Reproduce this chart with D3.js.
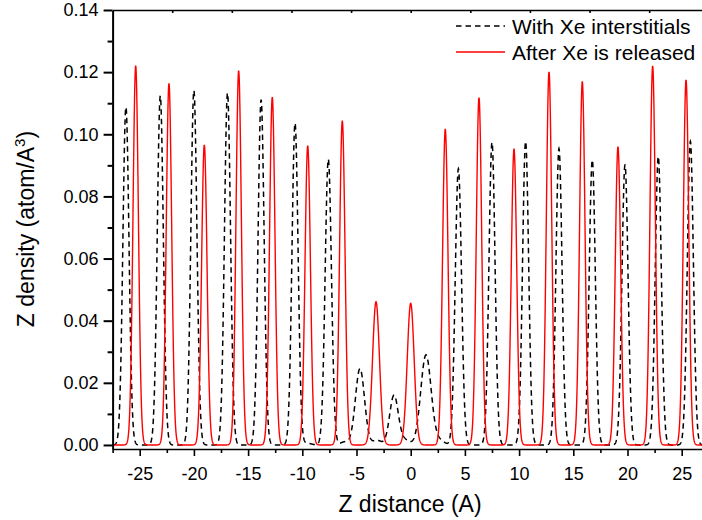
<!DOCTYPE html>
<html>
<head>
<meta charset="utf-8">
<script src="https://cdn.jsdelivr.net/npm/d3@7"></script>
<style>
  body { margin: 0; background: #fff; }
  svg { display: block; font-family: "Liberation Sans", Arial, sans-serif; }
</style>
</head>
<body>
<svg id="chart" width="702" height="520"></svg>
<script>
// Peaks: centre (A), height (atom/A^3), width sigma (A)
const withXeCentres = [-26.27, -23.1, -20.0, -16.9, -13.8, -10.67, -7.6, -4.68, -1.54, 1.41,
                       4.4, 7.5, 10.6, 13.68, 16.75, 19.77, 22.84, 25.8,
                       -9.6, -6.06, -3.1, -0.5, 2.7];
const withXeHeights = [0.1088, 0.1124, 0.1141, 0.1133, 0.1111, 0.1036, 0.092, 0.0246, 0.016, 0.029,
                       0.0889, 0.0974, 0.0977, 0.0954, 0.0918, 0.0902, 0.0929, 0.0977,
                       0.0006, 0.001, 0.0015, 0.0015, 0.0014];
const withXeWidths  = [0.28, 0.28, 0.28, 0.28, 0.28, 0.28, 0.29, 0.42, 0.4, 0.48,
                       0.29, 0.28, 0.28, 0.28, 0.28, 0.28, 0.28, 0.28,
                       0.4, 0.4, 0.4, 0.4, 0.4];

const releasedCentres = [-25.37, -22.3, -19.04, -15.87, -12.77, -9.5, -6.31, -3.2, 0.0,
                         3.19, 6.3, 9.53, 12.76, 15.83, 19.12, 22.32, 25.4];
const releasedHeights = [0.122, 0.1164, 0.0966, 0.1204, 0.1119, 0.0963, 0.1043, 0.0461, 0.0456,
                         0.1016, 0.1118, 0.0953, 0.1201, 0.1169, 0.096, 0.122, 0.1175];
const releasedWidths  = [0.25, 0.25, 0.25, 0.25, 0.25, 0.25, 0.25, 0.32, 0.32,
                         0.25, 0.25, 0.25, 0.25, 0.25, 0.25, 0.25, 0.25];

const seriesNames = ["With Xe interstitials", "After Xe is released"];

const xTicks = [-25, -20, -15, -10, -5, 0, 5, 10, 15, 20, 25];
const xMinorTicks = [-27.5, -22.5, -17.5, -12.5, -7.5, -2.5, 2.5, 7.5, 12.5, 17.5, 22.5, 27.5];
const topTicks = [-22, -16.5, -11, -5.5, 0, 5.5, 11, 16.5, 22, 27.5];
const yTicks = [0, 0.02, 0.04, 0.06, 0.08, 0.1, 0.12, 0.14];
const yMinorTicks = [0.01, 0.03, 0.05, 0.07, 0.09, 0.11, 0.13];

const svg = d3.select('#chart');
const plotLeft = 112.6, plotTop = 10, plotBottom = 449;

const x = d3.scaleLinear().domain([-27.5, 28.5]).range([plotLeft, plotLeft + 56 * 10.84]);
const y = d3.scaleLinear().domain([-0.0013, 0.14]).range([plotBottom, plotTop]);

// density profile from the peak list
function profile(centres, heights, widths) {
    const pts = [];
    for (let z = -27.5; z <= 28.5; z += 0.02) {
        let v = 0;
        centres.forEach((c, i) => {
            const u = (z - c) / widths[i];
            v += heights[i] * Math.exp(-0.5 * u * u);
        });
        pts.push([z, v]);
    }
    return pts;
}

svg.append('defs').append('clipPath').attr('id', 'plot-clip')
   .append('rect')
   .attr('x', plotLeft).attr('y', plotTop)
   .attr('width', x.range()[1] - plotLeft).attr('height', plotBottom - plotTop);

const line = d3.line().x(d => x(d[0])).y(d => y(d[1]));

const plot = svg.append('g').attr('clip-path', 'url(#plot-clip)');
plot.append('path')
    .datum(profile(withXeCentres, withXeHeights, withXeWidths))
    .attr('d', line)
    .attr('fill', 'none')
    .attr('stroke', '#000')
    .attr('stroke-width', 1.5)
    .attr('stroke-dasharray', '5.5,4');
plot.append('path')
    .datum(profile(releasedCentres, releasedHeights, releasedWidths))
    .attr('d', line)
    .attr('fill', 'none')
    .attr('stroke', '#ff0000')
    .attr('stroke-width', 1.4);

// axes
const styleAxis = (g, w) => {
    g.selectAll('path.domain').attr('stroke', '#000').attr('stroke-width', w);
    g.selectAll('line').attr('stroke', '#000').attr('stroke-width', w);
    g.selectAll('text').attr('fill', '#000').style('font-size', '18px')
     .style('font-family', '"Liberation Sans", Arial, sans-serif');
};

const yAxisG = svg.append('g').attr('transform', `translate(${plotLeft},0)`)
    .call(d3.axisLeft(y).tickValues(yTicks).tickSize(9).tickSizeOuter(0)
          .tickPadding(5).tickFormat(d3.format('.2f')));
styleAxis(yAxisG, 2);
const yMinorG = svg.append('g').attr('transform', `translate(${plotLeft},0)`)
    .call(d3.axisLeft(y).tickValues(yMinorTicks).tickSize(5).tickSizeOuter(0).tickFormat(''));
yMinorG.select('path.domain').remove();
styleAxis(yMinorG, 2);

const xAxisG = svg.append('g').attr('transform', `translate(0,${plotBottom})`)
    .call(d3.axisBottom(x).tickValues(xTicks).tickSize(7).tickSizeOuter(0).tickPadding(11)
          .tickFormat(d => String(d)));
styleAxis(xAxisG, 1.6);
const xMinorG = svg.append('g').attr('transform', `translate(0,${plotBottom})`)
    .call(d3.axisBottom(x).tickValues(xMinorTicks).tickSize(4).tickSizeOuter(0).tickFormat(''));
xMinorG.select('path.domain').remove();
styleAxis(xMinorG, 1.6);

const topAxisG = svg.append('g').attr('transform', `translate(0,${plotTop})`)
    .call(d3.axisTop(x).tickValues(topTicks).tickSize(-3).tickSizeOuter(0).tickFormat(''));
styleAxis(topAxisG, 1.6);

// axis titles
svg.append('text')
   .attr('x', 410).attr('y', 512)
   .attr('text-anchor', 'middle')
   .style('font-size', '23px')
   .text('Z distance (A)');

const yTitle = svg.append('text')
   .attr('transform', 'translate(34,229) rotate(-90)')
   .attr('text-anchor', 'middle')
   .style('font-size', '23px');
yTitle.append('tspan').text('Z density (atom/A');
yTitle.append('tspan').attr('dy', -9).style('font-size', '15px').text('3');
yTitle.append('tspan').attr('dy', 9).text(')');

// legend
const legend = svg.append('g');
const legendRows = [
    { name: seriesNames[0], color: '#000', dash: '5.5,4' },
    { name: seriesNames[1], color: '#ff0000', dash: null }
];
legendRows.forEach((r, i) => {
    const ly = 26 + i * 26;
    legend.append('line')
        .attr('x1', 456).attr('x2', 505).attr('y1', ly).attr('y2', ly)
        .attr('stroke', r.color).attr('stroke-width', 1.4)
        .attr('stroke-dasharray', r.dash);
    legend.append('text')
        .attr('x', 512).attr('y', ly + 8)
        .style('font-size', '21px')
        .text(r.name);
});
</script>
</body>
</html>
